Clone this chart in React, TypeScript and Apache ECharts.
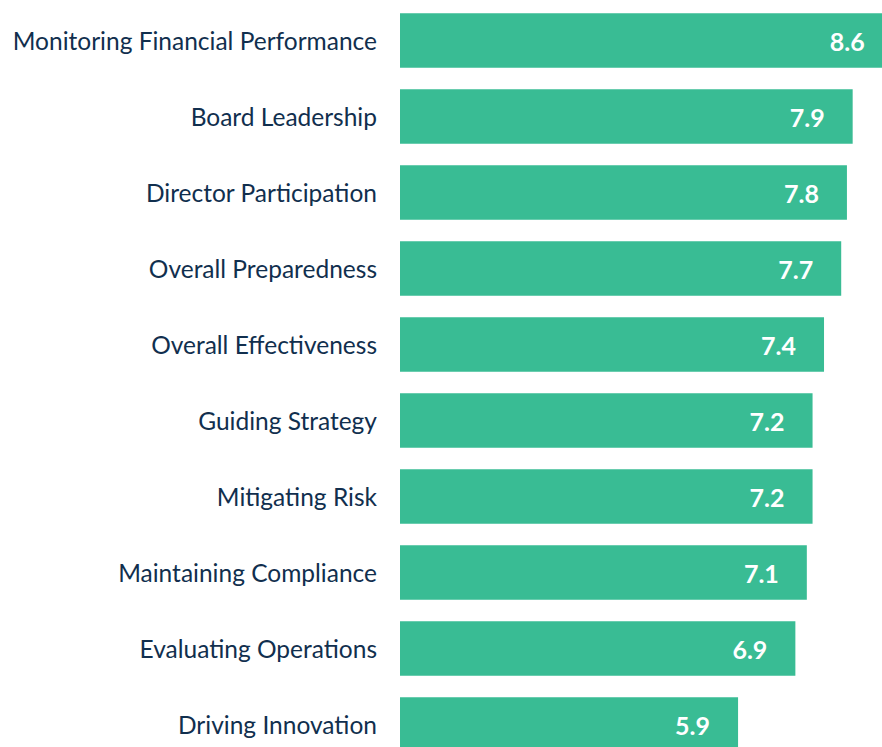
import React, { useEffect, useRef } from "react";
import * as echarts from "echarts";

const categories = [
  "Monitoring Financial Performance",
  "Board Leadership",
  "Director Participation",
  "Overall Preparedness",
  "Overall Effectiveness",
  "Guiding Strategy",
  "Mitigating Risk",
  "Maintaining Compliance",
  "Evaluating Operations",
  "Driving Innovation",
];
const scores = [8.6, 7.9, 7.8, 7.7, 7.4, 7.2, 7.2, 7.1, 6.9, 5.9];

export default function App() {
  const ref = useRef<HTMLDivElement>(null);
  useEffect(() => {
    document.body.style.margin = "0";
    const chart = echarts.init(ref.current!, null, { renderer: "svg" });
    chart.setOption({
      animation: false,
      backgroundColor: "#ffffff",
      grid: {
        left: 400,
        top: 2.5,
        width: 573,
        height: 760,
        containLabel: false,
        outerBoundsMode: "none",
      },
      xAxis: {
        type: "value",
        min: 0,
        max: 10,
        show: false,
      },
      yAxis: {
        type: "category",
        data: categories,
        inverse: true,
        axisLine: { show: false },
        axisTick: { show: false },
        splitLine: { show: false },
        axisLabel: {
          color: "#112f4e",
          fontFamily: "Lato",
          fontSize: 24.5,
          margin: 23,
        },
      },
      series: [
        {
          type: "bar",
          data: scores,
          barCategoryGap: "28%",
          itemStyle: { color: "#39bc94" },
          label: {
            show: true,
            position: "insideRight",
            distance: 28,
            color: "#ffffff",
            fontFamily: "Lato",
            fontWeight: "bold",
            fontSize: 25,
            formatter: (p: any) => p.value.toFixed(1),
          },
        },
      ],
    });
    return () => chart.dispose();
  }, []);
  return (
    <div
      ref={ref}
      style={{ position: "fixed", left: 0, top: 0, width: 882, height: 747 }}
    />
  );
}
